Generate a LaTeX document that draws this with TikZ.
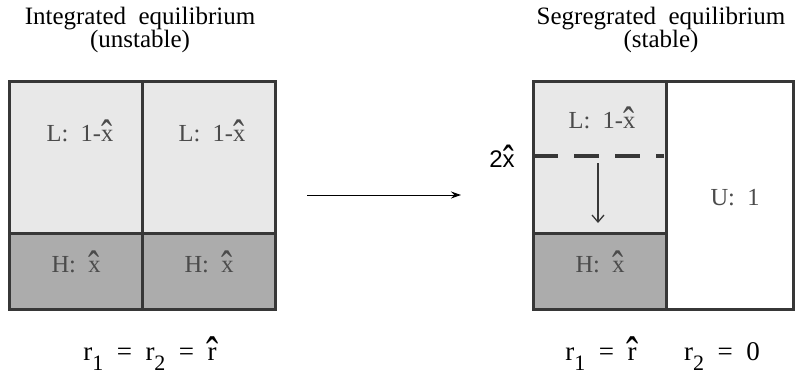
\documentclass[tikz,border=0pt]{standalone}
\usepackage{fontspec}
\usepackage{graphicx}
\setmainfont{Liberation Serif}
\newfontfamily\sansf{Liberation Sans}
\usetikzlibrary{arrows.meta}
\definecolor{lightfill}{RGB}{232,232,232}
\definecolor{darkfill}{RGB}{172,172,172}
\definecolor{edgecol}{RGB}{55,55,55}
\definecolor{labcol}{RGB}{75,75,75}
\newcommand{\subn}[1]{\raisebox{-0.4em}{\fontsize{22}{22}\selectfont #1}}
\newcommand{\bighat}[1]{\ooalign{#1\cr\hidewidth\smash{\raisebox{-0.4em}{\scalebox{1.35}[1.8]{ˆ}}}\hidewidth\cr}}
\begin{document}
\begin{tikzpicture}[x=1pt,y=-1pt,
  cell/.style={draw=edgecol,line width=3.4pt,minimum width=#1,inner sep=0pt,anchor=north west},
  lab/.style={text=labcol,anchor=base,inner sep=0pt,font=\fontsize{24.5}{24.5}\selectfont},
  ttl/.style={align=center,font=\fontsize{25}{25}\selectfont},
  eq/.style={anchor=base,inner sep=0pt,font=\fontsize{27}{27}\selectfont},
  conn/.style={-{Stealth[length=10pt,width=7pt]},line width=1pt}]
\useasboundingbox (0,0) rectangle (796,378);
% titles
\node[ttl] (t1) at (140,30) {Integrated\ \ equilibrium\\[-2pt](unstable)};
\node[ttl] (t2) at (661,30) {Segregrated\ \ equilibrium\\[-2pt](stable)};
% left box
\node[cell=133pt,minimum height=152pt,fill=lightfill] (L1) at (8,80) {};
\node[cell=133pt,minimum height=152pt,fill=lightfill] (L2) at (141,80) {};
\node[cell=133pt,minimum height=76pt,fill=darkfill] (H1) at (8,232) {};
\node[cell=133pt,minimum height=76pt,fill=darkfill] (H2) at (141,232) {};
\node[lab] (l1) at (80,141) {L:\ \ 1-\bighat{x}};
\node[lab] (l2) at (212,141) {L:\ \ 1-\bighat{x}};
\node[lab] (h1) at (76,272) {H:\ \ \bighat{x}};
\node[lab] (h2) at (209,272) {H:\ \ \bighat{x}};
% right box
\node[cell=133pt,minimum height=152pt,fill=lightfill] (RL) at (532,80) {};
\node[cell=133pt,minimum height=76pt,fill=darkfill] (RH) at (532,232) {};
\node[cell=127pt,minimum height=228pt,fill=white] (RU) at (665,80) {};
\node[lab] (rl) at (602,128) {L:\ \ 1-\bighat{x}};
\node[lab] (rh) at (600,272) {H:\ \ \bighat{x}};
\node[lab] (ru) at (735,205) {U:\ \ 1};
% dashed level
\coordinate (d1) at (533,156);
\coordinate (d2) at (664,156);
\draw[edgecol,line width=4pt,dash pattern=on 25pt off 16pt] (d1) -- (d2);
\node[anchor=base,inner sep=0pt,font=\sansf\fontsize{24}{24}\selectfont] (twox) at (502,167) {2\bighat{x}};
% vertical arrow
\coordinate (va) at (598,163);
\coordinate (vb) at (598,223);
\draw[-{Straight Barb[length=7pt,width=12pt]},line width=1.3pt,edgecol] (va) -- (vb);
% main arrow
\coordinate (ma) at (307,195);
\coordinate (mb) at (461,195);
\draw[conn] (ma) -- (mb);
% equations
\node[eq] (e1) at (150,360) {r\subn{1}\ \ =\ \ r\subn{2}\ \ =\ \ \bighat{r}};
\node[eq] (e2) at (601,360) {r\subn{1}\ \ =\ \ \bighat{r}};
\node[eq] (e3) at (722,360) {r\subn{2}\ \ =\ \ 0};
\end{tikzpicture}
\end{document}
